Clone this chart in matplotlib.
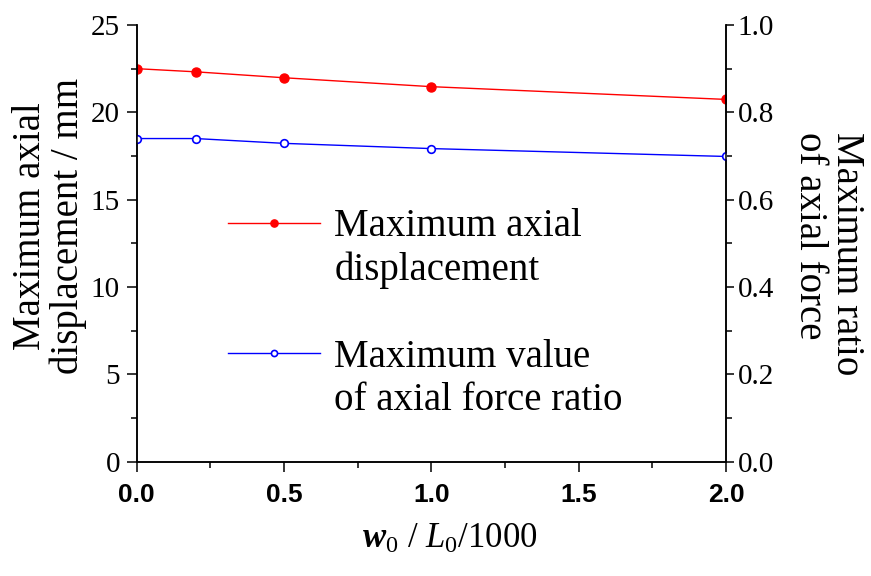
## Axial displacement and axial force ratio vs. initial imperfection
import numpy as np
import matplotlib
matplotlib.use('Agg')
import matplotlib.pyplot as plt
from matplotlib.lines import Line2D
from matplotlib.ticker import MultipleLocator, FormatStrFormatter

## Data
w0_ratio = [0.0, 0.2, 0.5, 1.0, 2.0]
max_disp = [22.50, 22.32, 21.98, 21.47, 20.74]      # mm
max_force_ratio = [0.740, 0.740, 0.729, 0.717, 0.699]

disp_label = 'Maximum axial\ndisplacement / mm'
ratio_label = 'Maximum ratio\nof axial force'
x_label = r'$\mathbfit{w}_0$ / $\mathit{L}_0$/1000'

## Fonts
plt.rcParams['font.family'] = 'Liberation Serif'
plt.rcParams['mathtext.fontset'] = 'custom'
plt.rcParams['mathtext.rm'] = 'Liberation Serif'
plt.rcParams['mathtext.it'] = 'Liberation Serif:italic'
plt.rcParams['mathtext.bf'] = 'Liberation Serif:bold'
plt.rcParams['mathtext.bfit'] = 'Liberation Serif:bold:italic'

fig = plt.figure(figsize=(8.71, 5.76), dpi=100)
ax = fig.add_axes([0.1569, 0.1984, 0.6766, 0.7582])
ax2 = ax.twinx()

red_line, = ax.plot(w0_ratio, max_disp, color='red', lw=1.0,
                    marker='o', ms=6.5, mfc='red', mec='red')
blue_line, = ax2.plot(w0_ratio, max_force_ratio, color='blue', lw=1.0,
                      marker='o', ms=5.5, mfc='white', mec='blue', mew=1.2)

## Axes limits and ticks
ax.set_xlim(0, 2.0)
ax.set_ylim(0, 25)
ax2.set_ylim(0, 1.0)
ax.xaxis.set_major_locator(MultipleLocator(0.5))
ax.xaxis.set_minor_locator(MultipleLocator(0.25))
ax.xaxis.set_major_formatter(FormatStrFormatter('%.1f'))
ax.yaxis.set_major_locator(MultipleLocator(5))
ax.yaxis.set_minor_locator(MultipleLocator(2.5))
ax2.yaxis.set_major_locator(MultipleLocator(0.2))
ax2.yaxis.set_minor_locator(MultipleLocator(0.1))
ax2.yaxis.set_major_formatter(FormatStrFormatter('%.1f'))

for a in (ax, ax2):
    for s in a.spines.values():
        s.set_linewidth(1.1)
ax.spines['top'].set_visible(False)
ax2.spines['top'].set_visible(False)

ax.tick_params(axis='both', which='major', direction='out', length=7, width=1.1)
ax.tick_params(axis='both', which='minor', direction='out', length=4.5, width=1.1)
ax2.tick_params(axis='y', which='major', direction='out', length=5.5, width=1.1)
ax2.tick_params(axis='y', which='minor', direction='out', length=4, width=1.1)
ax.tick_params(axis='x', pad=8)
ax.tick_params(axis='y', pad=5, labelsize=21)
ax2.tick_params(axis='y', pad=3, labelsize=21)
for t in ax.get_xticklabels():
    t.set_fontfamily('Liberation Sans')
    t.set_fontweight('bold')
    t.set_fontsize(19)

## Axis titles
ax.set_xlabel(x_label, fontsize=25)
ax.xaxis.set_label_coords(0.532, -0.14)
ax.set_ylabel(disp_label, fontsize=28, linespacing=1.0, multialignment='center')
ax.yaxis.set_label_coords(-0.085, 0.54)
ax2.set_ylabel(ratio_label, fontsize=28, rotation=-90, va='bottom', ha='center',
               linespacing=1.0, multialignment='left')
ax2.yaxis.set_label_coords(1.111, 0.477)

## Legend, second line of each entry without a handle
blank = Line2D([], [], linestyle='none')
handles = [red_line, blank, blank, blue_line, blank]
labels = ['Maximum axial', 'displacement', ' ', 'Maximum value', 'of axial force ratio']
leg = ax2.legend(handles, labels, loc='upper left', bbox_to_anchor=(0.155, 0.58),
                 frameon=False, fontsize=28, handlelength=2.37, handletextpad=0.36,
                 labelspacing=0.16, borderpad=0, borderaxespad=0, markerscale=0.8)

fig.savefig('out.png', dpi=100)
